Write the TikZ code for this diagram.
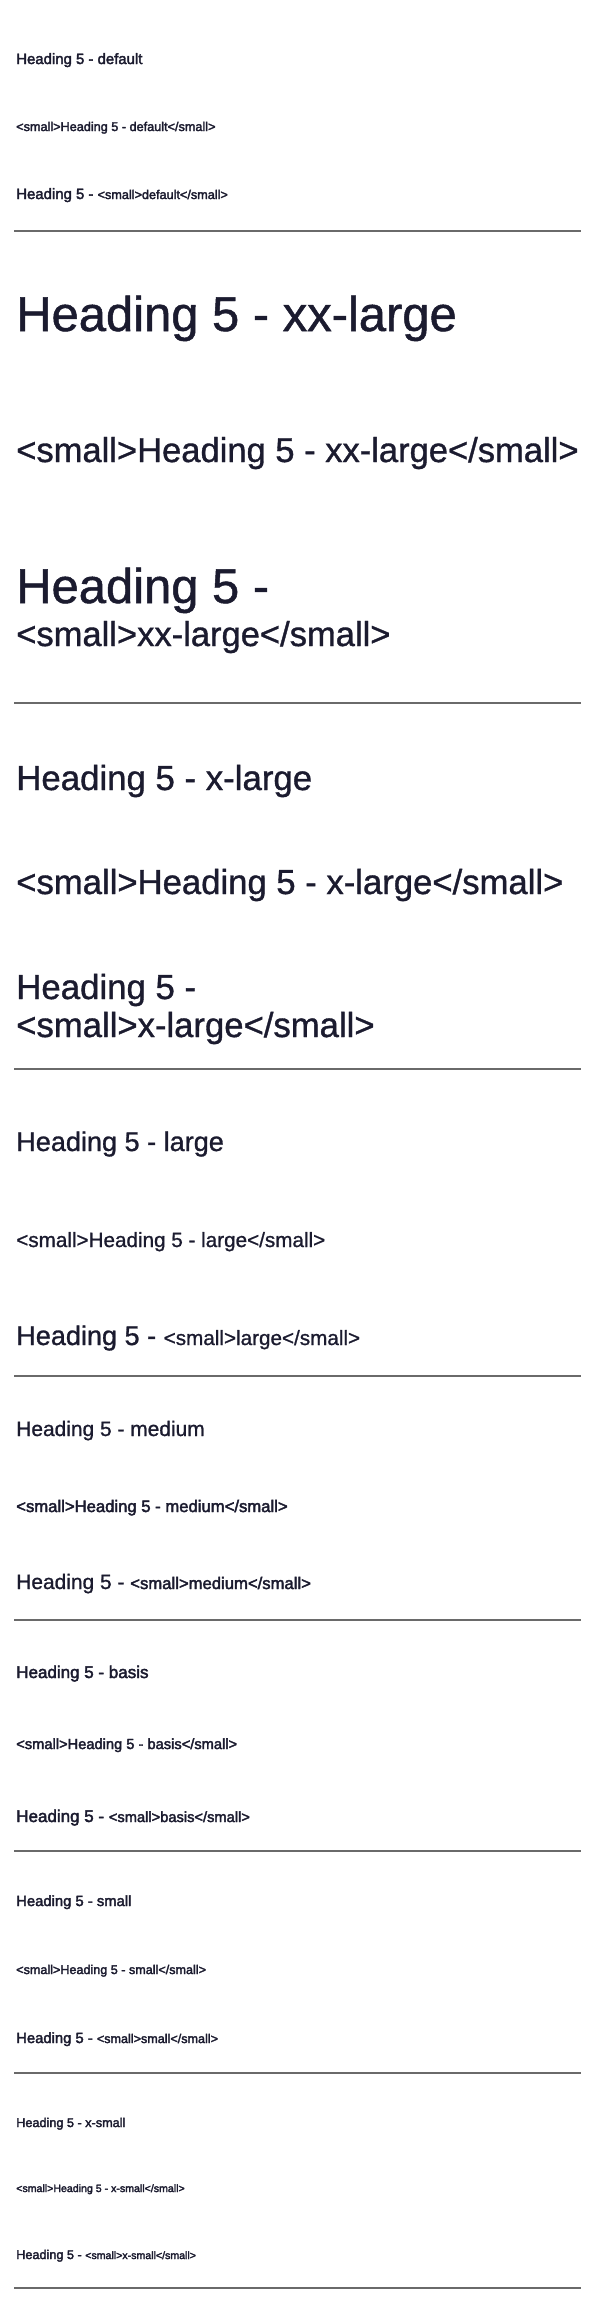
\documentclass[tikz,border=0pt]{standalone}
\usepackage{fontspec}
\setmainfont{Liberation Sans}[FakeBold=1]
\newfontfamily\medfont{Liberation Sans}[FakeBold=2.5]
\usepackage{tikz}

\definecolor{ink}{HTML}{1B1B2F}
\definecolor{rulegray}{HTML}{6A6A6A}
\newcommand{\fsz}[1]{\fontsize{#1}{#1}\selectfont}
\newcommand{\smtag}[2]{{\fsz{#1}<small>#2</small>}}

\begin{document}
\begin{tikzpicture}[x=0.75pt, y=-0.75pt,
  hd/.style = {anchor=base west, inner sep=0pt, text=ink},
  hdm/.style = {hd, font=\medfont},
  rule/.style = {draw=rulegray, line width=1.1pt}]
        \fill[white] (0,0) rectangle (597,2307);
        \useasboundingbox (0,0) rectangle (597,2307);
        % default
        \node[hdm] (d1) at (16,64) {\fsz{11.2pt}Heading 5 - default};
        \node[hdm] (d2) at (16,131) {\fsz{9.5pt}<small>Heading 5 - default</small>};
        \node[hdm] (d3) at (16,199) {\fsz{11.2pt}Heading 5 - \smtag{9.5pt}{default}};
        \draw[rule] (14,231) -- (581,231);
        % xx-large
        \node[hd, font=\fsz{36.7pt}] (xxl1) at (16,331) {Heading 5 - xx-large};
        \node[hd, font=\fsz{25.9pt}] (xxl2) at (16,462) {<small>Heading 5 - xx-large</small>};
        \node[hd, font=\fsz{36.7pt}] (xxl3) at (16,603) {Heading 5 -};
        \node[hd, font=\fsz{25.9pt}] (xxl4) at (16,646) {<small>xx-large</small>};
        \draw[rule] (14,703) -- (581,703);
        % x-large
        \node[hd, font=\fsz{26.1pt}] (xl1) at (16,790) {Heading 5 - x-large};
        \node[hd, font=\fsz{26pt}] (xl2) at (16,894) {<small>Heading 5 - x-large</small>};
        \node[hd, font=\fsz{26.1pt}] (xl3) at (16,999) {Heading 5 -};
        \node[hd, font=\fsz{26pt}] (xl4) at (16,1037) {<small>x-large</small>};
        \draw[rule] (14,1069) -- (581,1069);
        % large
        \node[hd, font=\fsz{20.3pt}] (l1) at (16,1151) {Heading 5 - large};
        \node[hd, font=\fsz{15.5pt}] (l2) at (16,1247) {<small>Heading 5 - large</small>};
        \node[hd, font=\fsz{20.3pt}] (l3) at (16,1345) {Heading 5 - \smtag{15.5pt}{large}};
        \draw[rule] (14,1376) -- (581,1376);
        % medium
        \node[hd, font=\fsz{15.7pt}] (m1) at (16,1436) {Heading 5 - medium};
        \node[hdm] (m2) at (16,1512) {\fsz{12.5pt}<small>Heading 5 - medium</small>};
        \node[hd, font=\fsz{15.7pt}] (m3) at (16,1589) {Heading 5 - {\medfont\smtag{12.5pt}{medium}}};
        \draw[rule] (14,1620) -- (581,1620);
        % basis
        \node[hdm] (b1) at (16,1678) {\fsz{12.75pt}Heading 5 - basis};
        \node[hdm] (b2) at (16,1749) {\fsz{11pt}<small>Heading 5 - basis</small>};
        \node[hdm] (b3) at (16,1822) {\fsz{12.75pt}Heading 5 - \smtag{11pt}{basis}};
        \draw[rule] (14,1851) -- (581,1851);
        % small
        \node[hdm] (s1) at (16,1906) {\fsz{11.1pt}Heading 5 - small};
        \node[hdm] (s2) at (16,1974) {\fsz{9.45pt}<small>Heading 5 - small</small>};
        \node[hdm] (s3) at (16,2043) {\fsz{11.1pt}Heading 5 - \smtag{9.45pt}{small}};
        \draw[rule] (14,2073) -- (581,2073);
        % x-small
        \node[hdm] (xs1) at (16,2127) {\fsz{9.5pt}Heading 5 - x-small};
        \node[hdm] (xs2) at (16,2192) {\fsz{7.95pt}<small>Heading 5 - x-small</small>};
        \node[hdm] (xs3) at (16,2259) {\fsz{9.5pt}Heading 5 - \smtag{7.95pt}{x-small}};
        \draw[rule] (14,2288) -- (581,2288);
    \end{tikzpicture}
\end{document}
